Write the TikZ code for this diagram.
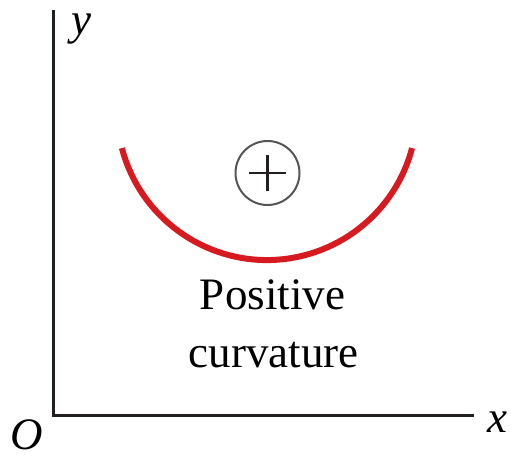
\documentclass[tikz,border=0pt]{standalone}
\usepackage{fontspec}
\setmainfont{Liberation Serif}
\definecolor{curvred}{RGB}{215,25,32}
\definecolor{axisblack}{RGB}{35,31,32}
\definecolor{ringgray}{RGB}{85,85,85}
\tikzset{
  axisline/.style={line width=3.2pt, draw=axisblack},
  curve/.style={line width=6pt, draw=curvred},
  signring/.style={circle, draw=ringgray, line width=2pt, minimum size=64pt, inner sep=0pt},
  signbar/.style={line width=2.6pt, draw=axisblack},
  lbl/.style={font=\fontsize{45}{45}\selectfont\itshape, anchor=base, inner sep=0pt},
  caption/.style={font=\fontsize{45}{58}\selectfont, anchor=base, inner sep=0pt}
}
\begin{document}
\begin{tikzpicture}[x=1pt,y=-1pt]
\useasboundingbox (0,0) rectangle (511,457);
% axes
\coordinate (ytop) at (53.5,10);
\coordinate (origin) at (53.5,415.5);
\coordinate (xend) at (474,415.5);
\draw[axisline, line cap=butt, line join=miter] (ytop) -- (origin) -- (xend);
% labels
\node[lbl, text height=20pt, text depth=9pt] (ylabel) at (81,35) {y};
\node[lbl, text height=31pt, text depth=0pt] (olabel) at (27,449) {O};
\node[lbl, text height=21pt, text depth=0pt] (xlabel) at (497,432) {x};
% red arc
\coordinate (arcstart) at (121.9,148.1);
\draw[curve] (arcstart) arc[start angle=165.3, end angle=14.7, radius=150];
% plus sign in circle
\node[signring] (sign) at (267.5,173) {};
\draw[signbar] ([yshift=-18pt]sign.center) -- ([yshift=18pt]sign.center);
\draw[signbar] ([xshift=-18.5pt]sign.center) -- ([xshift=18.5pt]sign.center);
% caption
\node[caption] (pos) at (272.5,309) {Positive};
\node[caption] (curv) at (273.5,367) {curvature};
\end{tikzpicture}
\end{document}
